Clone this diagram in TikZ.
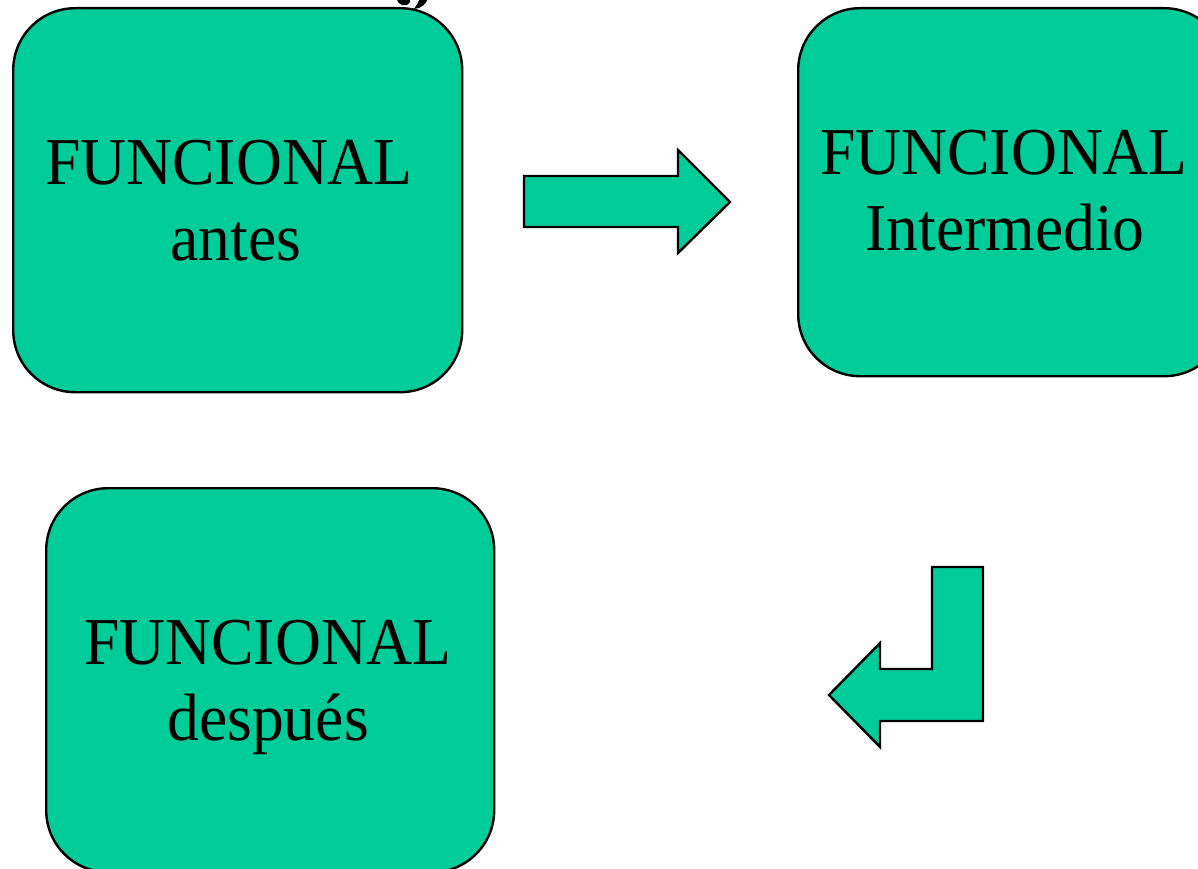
\documentclass[tikz,border=0pt]{standalone}
\usepackage{fontspec}
\setmainfont{Liberation Serif}
\newfontfamily\boxfont[FakeStretch=0.95]{Liberation Serif}
\definecolor{boxgreen}{RGB}{0,204,153}
\begin{document}
\begin{tikzpicture}[x=1pt,y=-1pt,
  box/.style={draw=black, line width=2.4pt, fill=boxgreen, rounded corners=62pt, inner sep=0pt, anchor=north west},
  lbl/.style={font=\boxfont\fontsize{67}{75}\selectfont, anchor=base, inner sep=0pt, text=black},
  blockarrow/.style={draw=black, line width=2.4pt, fill=boxgreen, line join=miter}]
\useasboundingbox (0,0) rectangle (1198,869);
% fragment of a title glyph cut off at the top
\fill[black] (397,-2) .. controls (397,6) and (407,8) .. (410,2) -- (410,-2) -- cycle;
\fill[black] (420,-2) -- (428,-2) .. controls (427,3) and (421,9) .. (414,9) .. controls (416,6) and (418,3) .. (420,-2) -- cycle;
% boxes
\node[box, minimum width=449pt, minimum height=384pt] (a) at (12,7) {};
\node[box, minimum width=428pt, minimum height=368pt] (b) at (797,7) {};
\node[box, minimum width=448pt, minimum height=384pt] (c) at (45,487) {};
% labels
\node[lbl] (a1) at (229,185) {FUNCIONAL};
\node[lbl] (a2) at (236,260) {antes};
\node[lbl] (b1) at (1004,175) {FUNCIONAL};
\node[lbl] (b2) at (1005,250) {Intermedio};
\node[lbl] (c1) at (268,664) {FUNCIONAL};
\node[lbl] (c2) at (268,740) {después};
% block arrows
\draw[blockarrow] (524,176) -- (678,176) -- (678,150) -- (730,202) -- (678,253) -- (678,227) -- (524,227) -- cycle;
\draw[blockarrow] (932,567) -- (983,567) -- (983,721) -- (880,721) -- (880,747) -- (829,695) -- (880,643) -- (880,669) -- (932,669) -- cycle;
\end{tikzpicture}
\end{document}
